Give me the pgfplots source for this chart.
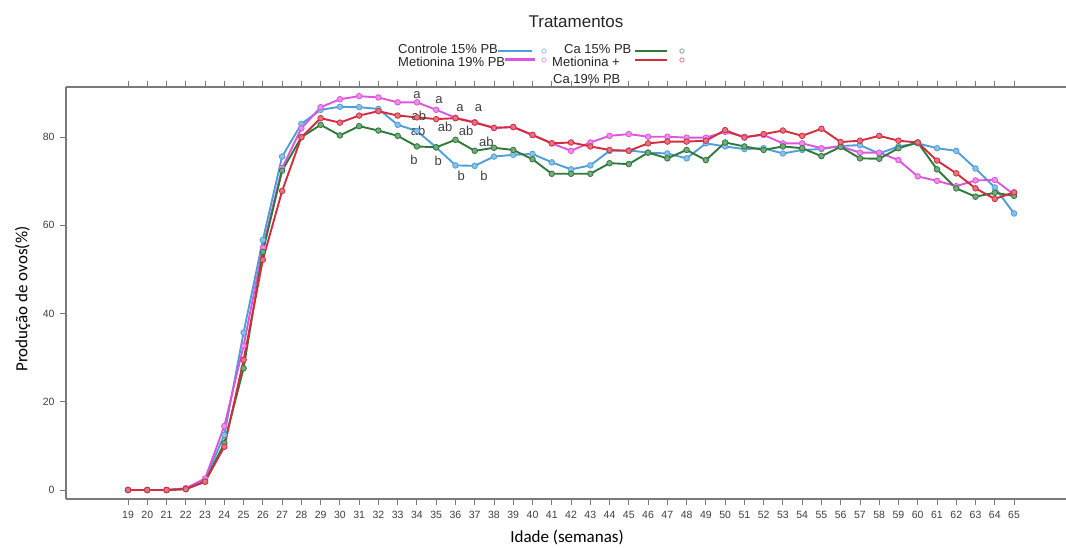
\documentclass[border=0pt]{standalone}
\usepackage{fontspec}
\setmainfont{Liberation Sans}
\newfontfamily\calibri{Carlito}
\usepackage{pgfplots}
\usepackage{pgfplotstable}
\pgfplotsset{compat=1.18}
\definecolor{cblue}{HTML}{4E9FD9}
\definecolor{cpink}{HTML}{DD55DD}
\definecolor{cgreen}{HTML}{2E7A3A}
\definecolor{cred}{HTML}{D42C3C}
\definecolor{axgray}{HTML}{7A7A7A}
\definecolor{tktext}{HTML}{404040}
\pgfplotstableread{
week blue pink green red
19 0 0 0 0
20 0 0 0 0
21 0 0 0 0
22 0.3 0.4 0.2 0.2
23 2.3 2.6 1.9 1.9
24 12.5 14.5 10.6 9.8
25 35.7 32.7 27.6 29.5
26 56.7 54.9 54.0 52.2
27 75.6 73.0 72.4 67.8
28 83.0 82.0 80.0 80.0
29 86.2 86.8 82.8 84.3
30 86.9 88.6 80.4 83.3
31 86.8 89.3 82.5 84.9
32 86.4 89.0 81.5 85.9
33 82.8 87.9 80.3 84.9
34 81.4 87.9 77.9 84.5
35 77.7 86.2 77.7 84.1
36 73.6 84.4 79.4 84.3
37 73.5 83.4 76.9 83.3
38 75.6 82.1 77.6 82.1
39 76.0 82.3 77.1 82.3
40 76.2 80.5 75.0 80.5
41 74.3 78.6 71.7 78.6
42 72.7 76.9 71.7 78.8
43 73.6 78.8 71.7 77.9
44 76.9 80.3 74.1 77.1
45 77.0 80.7 73.9 76.9
46 76.5 80.1 76.5 78.6
47 76.3 80.1 75.2 79.0
48 75.2 79.9 77.1 79.0
49 78.6 79.9 74.8 79.2
50 77.9 81.2 78.8 81.6
51 77.3 80.1 77.9 79.9
52 77.5 80.5 77.1 80.7
53 76.3 78.6 77.9 81.5
54 77.1 78.6 77.5 80.3
55 77.3 77.5 75.7 81.9
56 78.0 77.9 77.8 78.9
57 78.2 76.5 75.2 79.2
58 76.3 76.5 75.1 80.3
59 77.9 74.8 77.5 79.2
60 78.6 71.1 78.8 78.8
61 77.5 70.1 72.7 74.7
62 76.9 68.9 68.4 71.8
63 72.9 70.2 66.5 68.4
64 68.6 70.3 67.4 66.0
65 62.7 67.0 66.7 67.5
}\datatable
\begin{document}
\begin{tikzpicture}
\begin{axis}[
  at={(0pt,0pt)}, anchor=south west,
  scale only axis, width=1000pt, height=412pt,
  xmin=15.78, xmax=67.7, ymin=-2.04, ymax=91.38,
  axis x line*=box, axis y line*=left,
  xtick={19,...,65}, ytick={0,20,40,60,80},
  xticklabels={19,20,21,22,23,24,25,26,27,28,29,30,31,32,33,34,35,36,37,38,39,40,41,42,43,44,45,46,47,48,49,50,51,52,53,54,55,56,57,58,59,60,61,62,63,64,65},
  tick align=outside, major tick length=6pt,
  axis line style={draw=axgray, line width=1.3pt},
  major tick style={draw=axgray, line width=0.9pt},
  ticklabel style={font=\fontsize{10.5}{12}\selectfont, text=tktext},
  xticklabel style={yshift=-3pt},
  yticklabel style={xshift=-2pt},
  /pgf/number format/assume math mode=true,
  xlabel={\calibri\fontsize{17}{20}\selectfont Idade (semanas)},
  xlabel style={at={(axis description cs:0.501,0)}, anchor=base, yshift=-43.5pt},
  ylabel={\calibri\fontsize{17}{20}\selectfont Produção de ovos(\%)},
  ylabel style={at={(axis description cs:-0.0433,0.485)}, anchor=center, rotate=0},
  every axis plot/.append style={line width=1.9pt, mark=*, mark size=2.8pt},
]
\addplot[cblue, mark options={fill=cblue!65!white, draw=cblue, line width=0.8pt}] table[x=week, y=blue] {\datatable};
\addplot[cpink, mark options={fill=cpink!65!white, draw=cpink, line width=0.8pt}] table[x=week, y=pink] {\datatable};
\addplot[cgreen, mark options={fill=cgreen!65!white, draw=cgreen, line width=0.8pt}] table[x=week, y=green] {\datatable};
\addplot[cred, mark options={fill=cred!65!white, draw=cred, line width=0.8pt}] table[x=week, y=red] {\datatable};
\begin{scope}[every node/.style={font=\fontsize{13}{14}\selectfont, text=tktext, inner sep=0pt}]
\node at (axis cs:34.0,89.6) {a};
\node at (axis cs:35.15,88.4) {a};
\node at (axis cs:36.24,86.6) {a};
\node at (axis cs:37.2,86.6) {a};
\node at (axis cs:34.1,84.8) {ab};
\node at (axis cs:35.46,82.3) {ab};
\node at (axis cs:36.55,81.4) {ab};
\node at (axis cs:37.6,78.9) {ab};
\node at (axis cs:34.06,81.4) {ab};
\node at (axis cs:33.85,74.8) {b};
\node at (axis cs:35.1,74.6) {b};
\node at (axis cs:36.3,71.2) {b};
\node at (axis cs:37.48,71.2) {b};
\end{scope}
\end{axis}
% title and legend
\node[anchor=base, font=\fontsize{17}{20}\selectfont, text=black!85] at (510pt,471pt) {Tratamentos};
\begin{scope}[every node/.style={font=\fontsize{13}{15}\selectfont, text=black!85, inner sep=0pt, anchor=base west}]
\node at (332pt,445pt) {Controle 15\% PB};
\node at (498pt,445pt) {Ca 15\% PB};
\node at (332pt,432pt) {Metionina 19\% PB};
\node at (486pt,432pt) {Metionina +};
\node at (487pt,415pt) {Ca 19\% PB};
\end{scope}
\draw[cblue, line width=2.2pt] (432pt,448.3pt) -- (466pt,448.3pt);
\draw[cgreen, line width=2.2pt] (569pt,448.3pt) -- (601pt,448.3pt);
\draw[cpink, line width=2.2pt] (439pt,439.5pt) -- (469pt,439.5pt);
\draw[cred, line width=2.2pt] (569pt,439pt) -- (601pt,439pt);
\draw[cblue!60, line width=0.8pt] (478pt,448pt) circle (2.2pt);
\draw[cgreen!60, line width=0.8pt] (616pt,448pt) circle (2.2pt);
\draw[cpink!60, line width=0.8pt] (478pt,439pt) circle (2.2pt);
\draw[cred!60, line width=0.8pt] (616pt,439pt) circle (2.2pt);
\pgfresetboundingbox
\useasboundingbox (-66pt,-49pt) rectangle (1000pt,499pt);
\end{tikzpicture}
\end{document}
